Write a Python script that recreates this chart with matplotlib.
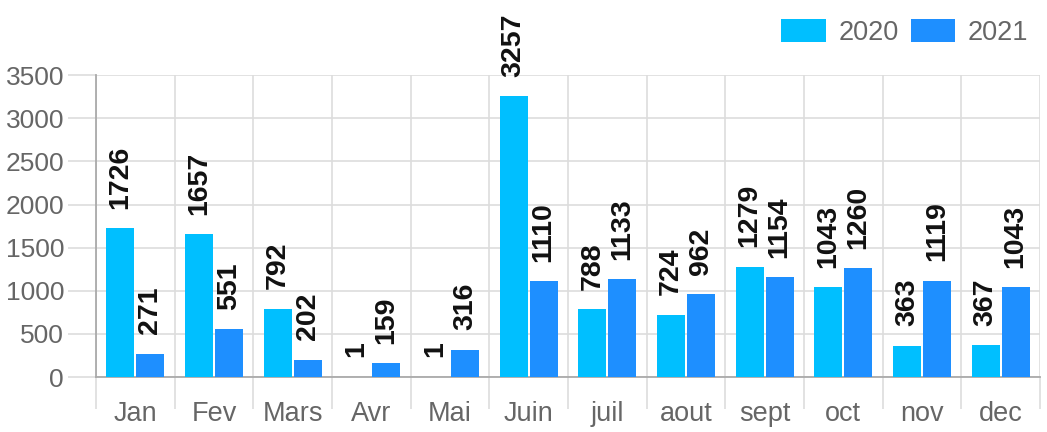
import matplotlib.pyplot as plt
import numpy as np

# Données
mois = ["Jan", "Fev", "Mars", "Avr", "Mai", "Juin", "juil", "aout", "sept", "oct", "nov", "dec"]
val_2020 = [1726, 1657, 792, 1, 1, 3257, 788, 724, 1279, 1043, 363, 367]
val_2021 = [271, 551, 202, 159, 316, 1110, 1133, 962, 1154, 1260, 1119, 1043]
annees = ["2020", "2021"]
couleurs = ["#00BFFF", "#1E8FFF"]

plt.rcParams['font.family'] = ['Liberation Sans', 'DejaVu Sans']

fig = plt.figure(figsize=(10.47, 4.32), dpi=100)
ax = fig.add_axes([0.0917, 0.1273, 0.9016, 0.6987])

x = np.arange(len(mois))
w = 0.355
ecart = 0.025

barres = []
for i, (vals, c) in enumerate(zip([val_2020, val_2021], couleurs)):
    pos = x + (i - 0.5) * (w + ecart)
    b = ax.bar(pos, vals, w, color=c, label=annees[i], zorder=3)
    barres.append(b)
    for p, v in zip(pos, vals):
        ax.annotate(str(v), (p, v), xytext=(0, 14), textcoords="offset points",
                    rotation=90, ha="center", va="bottom", fontsize=20.5,
                    fontweight="bold", color="#111111", annotation_clip=False)

ax.set_xlim(-0.5, len(mois) - 0.5)
ax.set_ylim(0, 3500)
ax.set_yticks(np.arange(0, 3501, 500))

# étiquettes au centre, ticks aux frontières
ax.set_xticks(x)
ax.set_xticklabels(mois)
ax.set_xticks(np.arange(-0.5, len(mois), 1), minor=True)
ax.tick_params(axis="x", which="major", length=0, pad=17, labelsize=19.5, labelcolor="#666666")
ax.tick_params(axis="x", which="minor", length=23, color="#dddddd", width=1.2)
ax.tick_params(axis="y", length=20, color="#dddddd", width=1.2, pad=3,
               labelsize=19, labelcolor="#666666")

ax.grid(True, which="minor", axis="x", color="#dddddd", lw=1.2, zorder=0)
ax.grid(True, which="major", axis="y", color="#dddddd", lw=1.2, zorder=0)

for s in ["top", "right"]:
    ax.spines[s].set_visible(False)
ax.spines["left"].set_color("#aaaaaa")
ax.spines["bottom"].set_color("#aaaaaa")
ax.spines["left"].set_linewidth(1.3)
ax.spines["bottom"].set_linewidth(1.3)

fig.legend(handles=barres, labels=annees, loc="upper right",
           bbox_to_anchor=(1.0, 1.0), ncol=2, frameon=False, fontsize=19.5,
           labelcolor="#666666", handlelength=1.65, handleheight=0.95,
           handletextpad=0.45, columnspacing=0.45, borderaxespad=0.3)

fig.savefig("out.png", dpi=100)
